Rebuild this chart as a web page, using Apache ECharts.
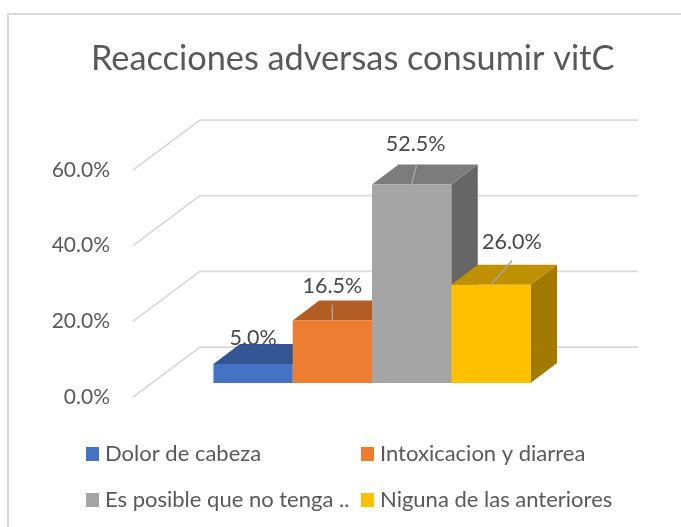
<!DOCTYPE html>
<html><head><meta charset="utf-8">
<style>html,body{margin:0;padding:0;background:#fff}#c{width:681px;height:527px}</style>
<script src="https://cdn.jsdelivr.net/npm/echarts@6/dist/echarts.min.js"></script>
</head><body><div id="c"></div>
<script>
const titleText = 'Reacciones adversas consumir vitC';
const seriesNames = ['Dolor de cabeza','Intoxicacion y diarrea','Es posible que no tenga ..','Niguna de las anteriores'];
const seriesValues = [5.0,16.5,52.5,26.0];
const yTicks = [0,20,40,60];
const frontColors = ['#4472C4','#ED7D31','#A5A5A5','#FFC000'];
const topColors = ['#335593','#B25D24','#7C7C7C','#BF9000'];
const sideColors = ['#294475','#8E4A1D','#666666','#A37A00'];

const FONT = 'Lato,sans-serif';
const TEXT = '#595959', GRIDC = '#D9D9D9';
const DEPTH = [67,-50], PLANE = [20,-14], BAR_D = [26.5,-20], BAR_W = 0.181;
const labelShift = [[0,-26],[0,-35],[4,-40],[21,-43]];
const leaderShift = [null,[0,-16],[5,-20],[21,-24]];

function wall(params, api){
  const p = api.coord([0, api.value(1)]), cs = params.coordSys;
  const x0 = cs.x, y = p[1];
  return {type:'polyline', silent:true,
    shape:{points:[[x0,y],[x0+DEPTH[0],y+DEPTH[1]],[x0+cs.width+DEPTH[0],y+DEPTH[1]]]},
    style:{stroke:GRIDC,lineWidth:1.75,fill:null}};
}
function barItem(i){
  return function(params, api){
    const w = api.size([1,0])[0]*BAR_W;
    const base = api.coord([0,0]), top = api.coord([0,api.value(1)]);
    const x0 = base[0]+(i-2)*w+PLANE[0], x1 = x0+w;
    const yb = base[1]+PLANE[1], yt = top[1]+PLANE[1];
    const dx = BAR_D[0], dy = BAR_D[1];
    const cx = (x0+x1)/2;
    const children = [
      {type:'polygon',shape:{points:[[x1,yb],[x1+dx,yb+dy],[x1+dx,yt+dy],[x1,yt]]},style:{fill:sideColors[i]}},
      {type:'polygon',shape:{points:[[x0,yt],[x1,yt],[x1+dx,yt+dy],[x0+dx,yt+dy]]},style:{fill:topColors[i]}},
      {type:'rect',shape:{x:x0,y:yt,width:w,height:yb-yt},style:{fill:frontColors[i]}}
    ];
    if(leaderShift[i]) children.push({type:'line',z2:50,
      shape:{x1:cx,y1:yt,x2:cx+leaderShift[i][0],y2:yt+leaderShift[i][1]},
      style:{stroke:'#A6A6A6',lineWidth:1.5}});
    children.push({type:'text',z2:60,x:cx+labelShift[i][0],y:yt+labelShift[i][1],
      style:{text:api.value(1).toFixed(1)+'%',font:'21.5px '+FONT,fill:'#484848',align:'center',verticalAlign:'middle'}});
    return {type:'group',children};
  };
}
const legendPos = [[86,443],[361,443],[86,489],[361,489]];
const option = {
  animation:false,
  backgroundColor:'#fff',
  title:{text:titleText,top:37,left:86,textStyle:{fontFamily:FONT,fontWeight:'normal',fontSize:34.3,color:TEXT}},
  graphic:[
    {type:'polyline',silent:true,shape:{points:[[8,527],[8,14],[681,14]]},style:{stroke:GRIDC,lineWidth:2,fill:null}}
  ],
  grid:{left:133,top:170,width:438,height:227,containLabel:false},
  xAxis:{type:'category',data:['Reacciones'],show:false},
  yAxis:{type:'value',min:0,max:60,interval:20,
    axisLine:{show:false},axisTick:{show:false},splitLine:{show:false},
    axisLabel:{margin:23,padding:[8,0,0,0],formatter:v=>v.toFixed(1)+'%',fontFamily:FONT,fontSize:21,color:TEXT}},
  legend:seriesNames.map((n,i)=>({data:[n],left:legendPos[i][0],top:legendPos[i][1],padding:0,icon:'rect',itemWidth:13,itemHeight:14,itemGap:0,
    selectedMode:false,textStyle:{fontFamily:FONT,fontSize:22,color:TEXT,padding:[0,0,0,1]}})),
  series:[
    {type:'custom',name:'walls',renderItem:wall,silent:true,encode:{x:0,y:1},data:yTicks.map(v=>[0,v]),z:1},
    ...seriesNames.map((n,i)=>({type:'custom',name:n,renderItem:barItem(i),encode:{x:0,y:1},
      itemStyle:{color:frontColors[i]},data:[[0,seriesValues[i]]],z:2}))
  ]
};
echarts.init(document.getElementById('c'),null,{renderer:'canvas'}).setOption(option);
</script></body></html>
